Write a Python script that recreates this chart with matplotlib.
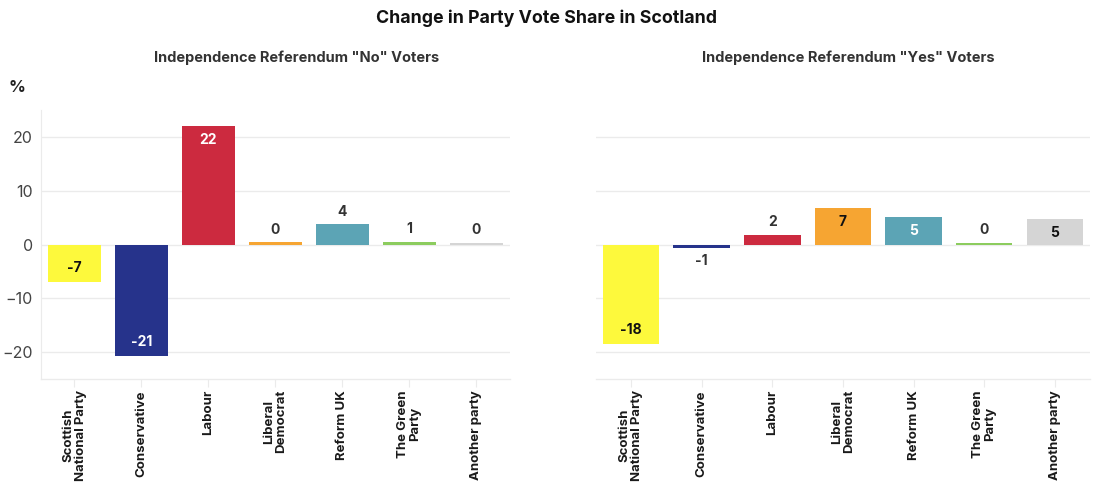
import matplotlib
matplotlib.use("Agg")
import matplotlib.pyplot as plt

plt.rcParams['font.family'] = ['Inter', 'DejaVu Sans']

categories = ["Scottish\nNational Party", "Conservative", "Labour", "Liberal\nDemocrat",
              "Reform UK", "The Green\nParty", "Another party"]
colors = ["#fdf93c", "#26338b", "#cc2a3f", "#f6a532", "#5ca4b5", "#8ccc5e", "#d5d5d5"]
label_colors = ["#111111", "#ffffff", "#ffffff", "#111111", "#ffffff", "#333333", "#111111"]

no_values = [-6.9, -20.8, 22.0, 0.4, 3.8, 0.5, 0.3]
no_labels = ["-7", "-21", "22", "0", "4", "1", "0"]
yes_values = [-18.5, -0.7, 1.8, 6.8, 5.1, 0.3, 4.7]
yes_labels = ["-18", "-1", "2", "7", "5", "0", "5"]

yticks = [-20, -10, 0, 10, 20]

fig = plt.figure(figsize=(10.93, 4.82), dpi=100)
fig.patch.set_facecolor("white")

ax1 = fig.add_axes([0.0375, 0.2137, 0.429, 0.558])
ax2 = fig.add_axes([0.545, 0.2137, 0.4524, 0.558])

grid_c = "#ebebeb"
for ax, vals, labs, show_y in [(ax1, no_values, no_labels, True), (ax2, yes_values, yes_labels, False)]:
    x = list(range(len(categories)))
    ax.bar(x, vals, width=0.8, color=colors, zorder=3)
    ax.set_xlim(-0.5, len(categories) - 0.5)
    ax.set_ylim(-25, 25)
    ax.set_yticks(yticks)
    ax.grid(axis='y', color=grid_c, linewidth=1.0, zorder=0)
    ax.set_axisbelow(True)
    for s in ["top", "right"]:
        ax.spines[s].set_visible(False)
    ax.spines["bottom"].set_color(grid_c)
    ax.spines["bottom"].set_linewidth(1.0)
    ax.spines["left"].set_color(grid_c)
    ax.spines["left"].set_visible(show_y)
    ax.set_xticks(x)
    ax.set_xticklabels(categories, rotation=90, fontsize=9.5, fontweight='bold',
                       color="#1a1a1a", ha='center', va='top', multialignment='center',
                       linespacing=1.0)
    ax.tick_params(axis='x', length=6, color=grid_c, pad=2)
    ax.tick_params(axis='y', length=0, labelsize=11.5, labelcolor="#444444", pad=6)
    if not show_y:
        ax.tick_params(axis='y', labelleft=False)
    for i, (v, lab) in enumerate(zip(vals, labs)):
        if abs(v) >= 4.5:
            if v > 0:
                ax.annotate(lab, (i, v), xytext=(0, -5), textcoords='offset points',
                            ha='center', va='top', fontsize=10, fontweight='bold',
                            color=label_colors[i], zorder=4)
            else:
                ax.annotate(lab, (i, v), xytext=(0, 5), textcoords='offset points',
                            ha='center', va='bottom', fontsize=10, fontweight='bold',
                            color=label_colors[i], zorder=4)
        else:
            if v >= 0:
                ax.annotate(lab, (i, v), xytext=(0, 4), textcoords='offset points',
                            ha='center', va='bottom', fontsize=10, fontweight='bold',
                            color="#333333", zorder=4)
            else:
                ax.annotate(lab, (i, v), xytext=(0, -4), textcoords='offset points',
                            ha='center', va='top', fontsize=10, fontweight='bold',
                            color="#333333", zorder=4)

fig.text(0.5, 0.962, "Change in Party Vote Share in Scotland", ha='center', va='center',
         fontsize=12.8, fontweight='bold', color="#111111")
fig.text(297 / 1093, 1 - 58 / 482, 'Independence Referendum "No" Voters', ha='center',
         va='center', fontsize=10.5, fontweight='bold', color="#333333")
fig.text(848 / 1093, 1 - 58 / 482, 'Independence Referendum "Yes" Voters', ha='center',
         va='center', fontsize=10.5, fontweight='bold', color="#333333")
fig.text(17 / 1093, 1 - 88 / 482, "%", ha='center', va='center', fontsize=12,
         fontweight='bold', color="#222222")

fig.savefig("out.png", dpi=100, facecolor="white")
